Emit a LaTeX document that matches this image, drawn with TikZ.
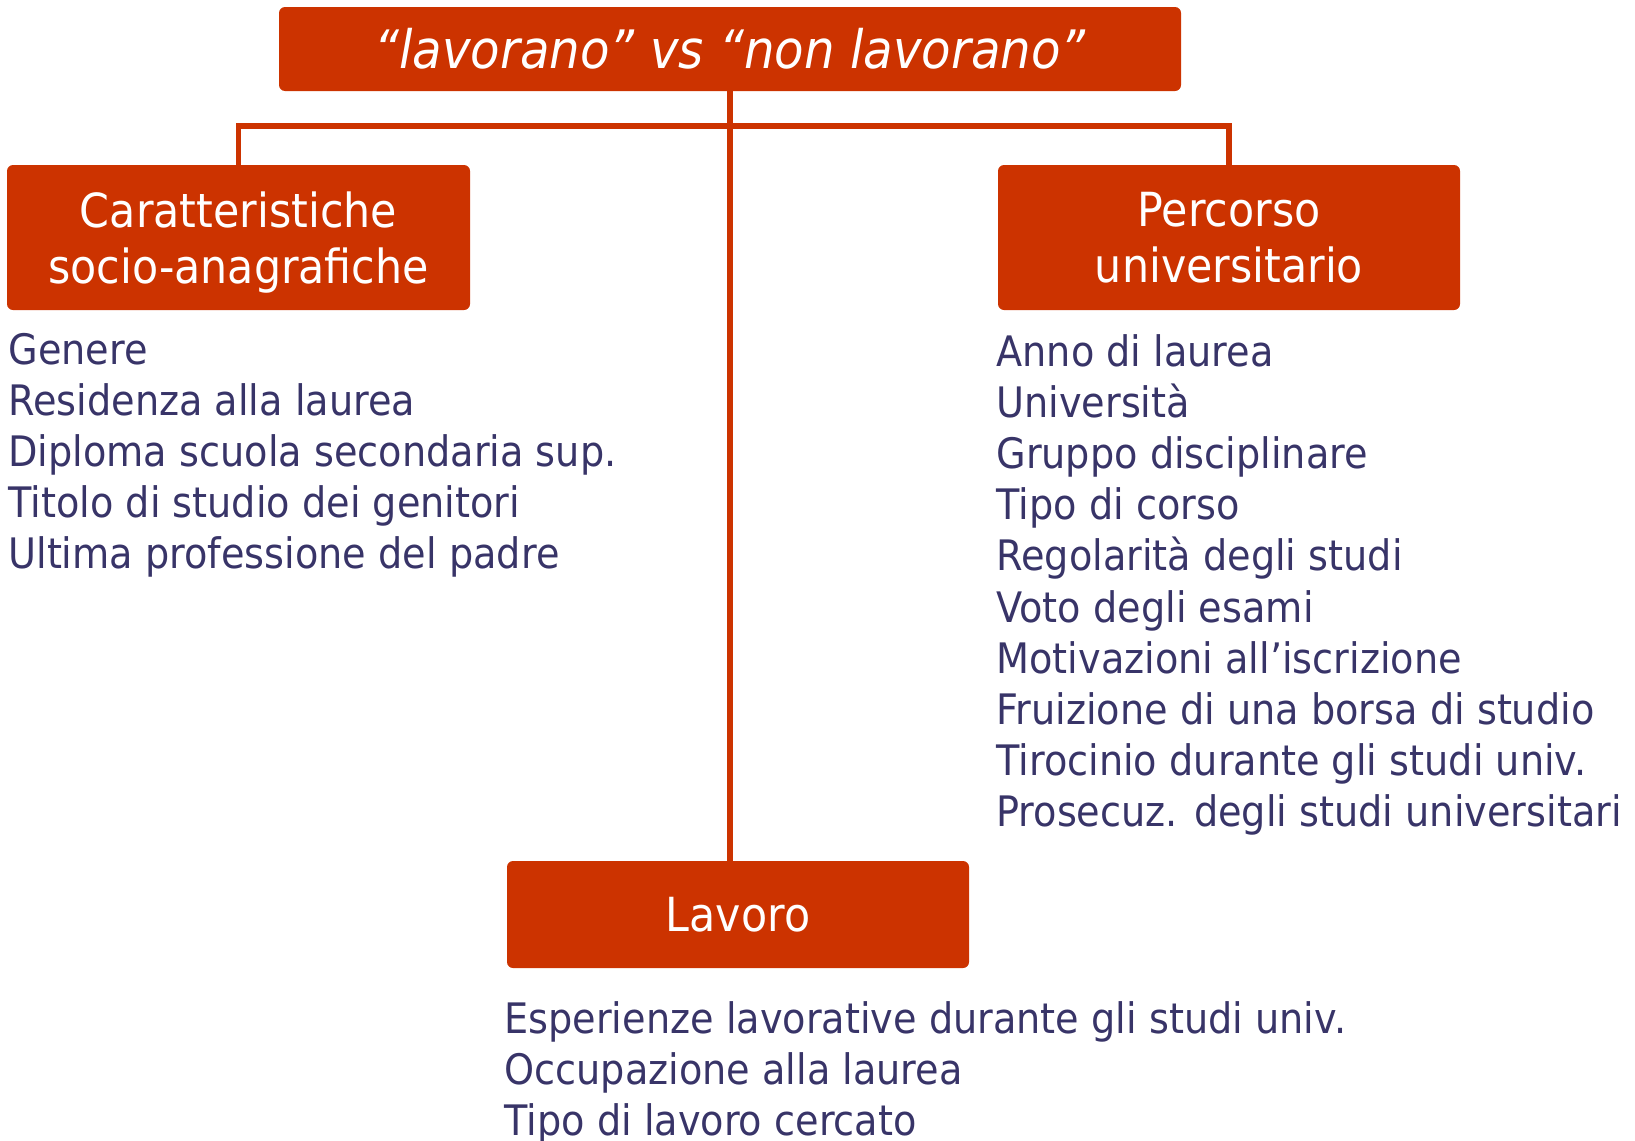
\documentclass[tikz,border=0pt]{standalone}
\usepackage{fontspec}
\setmainfont[FakeStretch=0.91]{DejaVu Sans}
\usetikzlibrary{positioning}
\definecolor{boxred}{RGB}{204,51,0}
\definecolor{listblue}{RGB}{56,52,104}
\newcommand{\flatline}[1]{\raisebox{0pt}[\height][0pt]{#1}}
\tikzset{
  redbox/.style={fill=boxred, rounded corners=3pt, text=white, align=center, inner sep=0pt,
    font=\fontsize{23.5}{28}\selectfont},
  listitem/.style={anchor=base west, inner sep=0pt, text=listblue,
    font=\fontsize{21}{25}\selectfont},
  link/.style={draw=boxred, line width=2.75pt}
}
\begin{document}
\begin{tikzpicture}[x=0.5pt,y=-0.5pt]
  \useasboundingbox (0,0) rectangle (1635,1141);
  % boxes
  \node[redbox, minimum width=451pt, minimum height=42pt, font=\fontsize{26.5}{30}\selectfont\itshape]
    (title) at (730,49) {“lavorano” vs “non lavorano”};
  \node[redbox, minimum width=231.5pt, minimum height=72.5pt] (socio) at (238.5,237.5)
    {Caratteristiche\\\flatline{socio-anagrafiche}};
  \node[redbox, minimum width=231pt, minimum height=72.5pt] (percorso) at (1229,237.5)
    {Percorso\\\flatline{universitario}};
  \node[redbox, minimum width=231pt, minimum height=53.5pt] (lavoro) at (738,914.5) {Lavoro};
  % connectors
  \coordinate (split) at (730,126);
  \draw[link] (title.south) -- (title.south |- lavoro.north);
  \draw[link] (socio.north) |- (split) -| (percorso.north);
  % lists
  \foreach \t [count=\i] in {Genere, Residenza alla laurea, Diploma scuola secondaria sup.,
      Titolo di studio dei genitori, Ultima professione del padre}
    \node[listitem] (l\i) at (8,{364+51*(\i-1)}) {\t};
  \foreach \t [count=\i] in {Anno di laurea, Università, Gruppo disciplinare, Tipo di corso,
      Regolarità degli studi, Voto degli esami, Motivazioni all’iscrizione,
      Fruizione di una borsa di studio, Tirocinio durante gli studi univ.,
      Prosecuz. degli studi universitari}
    \node[listitem] (r\i) at (996,{366+51.2*(\i-1)}) {\t};
  \foreach \t [count=\i] in {Esperienze lavorative durante gli studi univ.,
      Occupazione alla laurea, Tipo di lavoro cercato}
    \node[listitem] (w\i) at (504,{1033+51*(\i-1)}) {\t};
\end{tikzpicture}
\end{document}
